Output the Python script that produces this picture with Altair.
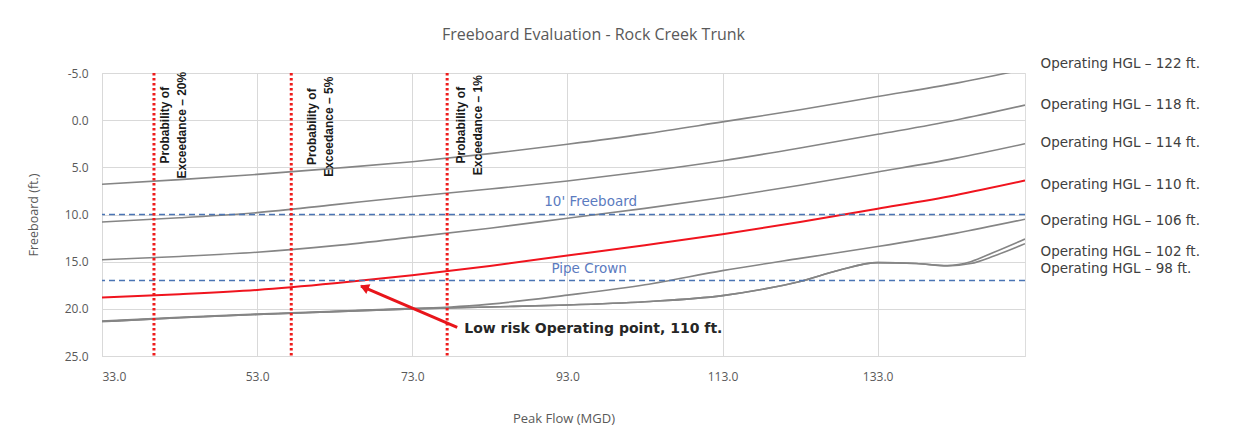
import altair as alt
import pandas as pd

TITLE = "Freeboard Evaluation - Rock Creek Trunk"
X_TICKS = [33, 53, 73, 93, 113, 133]
Y_TICKS = [-5, 0, 5, 10, 15, 20, 25]

X_MAIN = [33, 43, 53, 63, 73, 83, 93, 103, 113, 123, 133, 143, 152]
HGL_122 = [6.8, 6.3, 5.75, 5.1, 4.4, 3.55, 2.55, 1.45, 0.18, -1.1, -2.5, -3.9, -5.4]
HGL_118 = [10.8, 10.35, 9.8, 8.95, 8.1, 7.3, 6.45, 5.45, 4.3, 2.95, 1.5, 0.0, -1.6]
HGL_114 = [14.8, 14.45, 14.0, 13.3, 12.4, 11.45, 10.4, 9.35, 8.2, 6.9, 5.5, 4.05, 2.5]
HGL_110 = [18.8, 18.45, 18.0, 17.3, 16.45, 15.45, 14.35, 13.25, 12.1, 10.8, 9.4, 7.95, 6.4]

X_106 = [33, 43, 53, 63, 73, 78, 83, 93, 103, 113, 123, 133, 143, 152]
HGL_106 = [21.3, 20.9, 20.55, 20.25, 19.95, 19.8, 19.5, 18.55, 17.45, 15.95, 14.65, 13.4, 12.0, 10.5]

X_LOW = [33, 43, 53, 63, 73, 83, 93, 103, 113, 118, 123, 128, 133, 138, 142, 145, 148, 152]
HGL_102 = [21.35, 20.95, 20.6, 20.3, 20.0, 19.8, 19.6, 19.25, 18.6, 17.95, 17.1, 15.9, 15.1, 15.2, 15.4, 15.0, 14.0, 12.6]
HGL_98 = [21.35, 20.95, 20.6, 20.3, 20.0, 19.8, 19.6, 19.25, 18.6, 17.95, 17.1, 15.9, 15.1, 15.2, 15.45, 15.2, 14.4, 13.1]

GRAY_SERIES = [
    ("122", X_MAIN, HGL_122),
    ("118", X_MAIN, HGL_118),
    ("114", X_MAIN, HGL_114),
    ("106", X_106, HGL_106),
    ("102", X_LOW, HGL_102),
    ("98", X_LOW, HGL_98),
]

LABEL_TEXTS = ["Operating HGL \u2013 122 ft.", "Operating HGL \u2013 118 ft.",
               "Operating HGL \u2013 114 ft.", "Operating HGL \u2013 110 ft.",
               "Operating HGL \u2013 106 ft.", "Operating HGL \u2013 102 ft.",
               "Operating HGL \u2013 98 ft."]
LABEL_Y = [-5.93, -1.62, 2.44, 6.85, 10.66, 14.0, 15.78]
LABEL_X = 154.0

PROB_X = [39.7, 57.4, 77.5]
PROB_TEXT_X = [40.5, 59.4, 78.7]
PROB_TEXT_Y = [0.53, 0.69, 0.53]
PROB_TEXTS = ["Probability of\nExceedance \u2013 20%", "Probability of\nExceedance \u2013 5%",
              "Probability of\nExceedance \u2013 1%"]

REF_Y = [10.0, 17.0]
REF_TEXTS = ["10' Freeboard", "Pipe Crown"]
REF_TEXT_X = [96.0, 95.8]
REF_TEXT_Y = [8.65, 15.8]

ARROW_TAIL = (78.8, 21.96)
ARROW_HEAD = (66.4, 17.6)
ARROW_TIP_SYMBOL = (66.8, 17.72)
NOTE_TEXT = "Low risk Operating point, 110 ft."
NOTE_POS = (79.7, 22.1)

# ---- tables ----
gray_rows = []
for name, xs, ys in GRAY_SERIES:
    for i, (x, y) in enumerate(zip(xs, ys)):
        gray_rows.append({"series": name, "flow": x, "freeboard": y, "order": i})
gray_df = pd.DataFrame(gray_rows)
red_df = pd.DataFrame({"flow": X_MAIN, "freeboard": HGL_110, "order": list(range(len(X_MAIN)))})
label_df = pd.DataFrame({"flow": [LABEL_X] * len(LABEL_TEXTS), "freeboard": LABEL_Y, "text": LABEL_TEXTS})
prob_df = pd.DataFrame({"flow": PROB_X})
prob_text_df = pd.DataFrame({"flow": PROB_TEXT_X, "freeboard": PROB_TEXT_Y, "text": PROB_TEXTS})
ref_df = pd.DataFrame({"freeboard": REF_Y})
ref_text_df = pd.DataFrame({"flow": REF_TEXT_X, "freeboard": REF_TEXT_Y, "text": REF_TEXTS})
arrow_df = pd.DataFrame({"flow": [ARROW_TAIL[0]], "freeboard": [ARROW_TAIL[1]],
                         "flow2": [ARROW_HEAD[0]], "freeboard2": [ARROW_HEAD[1]]})
tip_df = pd.DataFrame({"flow": [ARROW_TIP_SYMBOL[0]], "freeboard": [ARROW_TIP_SYMBOL[1]]})
note_df = pd.DataFrame({"flow": [NOTE_POS[0]], "freeboard": [NOTE_POS[1]], "text": [NOTE_TEXT]})

FONT = "Open Sans"
WIDE = "DejaVu Sans"
AX_COLOR = "#595959"

xscale = alt.Scale(domain=[33, 152], nice=False, zero=False)
yscale = alt.Scale(domain=[-5, 25], reverse=True, nice=False, zero=False)

x_axis = alt.Axis(values=X_TICKS, format=".1f", title="Peak Flow (MGD)", grid=True,
                  gridColor="#d9d9d9", domainColor="#d9d9d9", ticks=False,
                  labelColor=AX_COLOR, labelFont=FONT, labelFontSize=12, labelPadding=15,
                  titleFont=FONT, titleFontSize=13, titleFontWeight="normal",
                  titleColor=AX_COLOR, titlePadding=30)
y_axis = alt.Axis(values=Y_TICKS, format=".1f", title="Freeboard (ft.)", grid=True,
                  labelExpr="replace(datum.label, '\u2212', '-')",
                  gridColor="#d9d9d9", domainColor="#d9d9d9", ticks=False,
                  labelColor=AX_COLOR, labelFont=FONT, labelFontSize=12, labelPadding=14,
                  titleFont=FONT, titleFontSize=12.5, titleFontWeight="normal",
                  titleColor=AX_COLOR, titlePadding=24)

X = alt.X("flow:Q", scale=xscale, axis=x_axis)
Y = alt.Y("freeboard:Q", scale=yscale, axis=y_axis)

gray = alt.Chart(gray_df).mark_line(color="#858585", strokeWidth=1.6, clip=True,
                                    interpolate="monotone").encode(
    x=X, y=Y, detail="series:N", order="order:Q")
red = alt.Chart(red_df).mark_line(color="#f0141e", strokeWidth=2, clip=True,
                                  interpolate="monotone").encode(x=X, y=Y, order="order:Q")

refs = alt.Chart(ref_df).mark_rule(color="#4a74b4", strokeWidth=1.5, strokeDash=[6, 4]).encode(y=Y)
ref_text = alt.Chart(ref_text_df).mark_text(font=WIDE, fontSize=13.5, color="#5b7bc0",
                                            align="center", baseline="middle").encode(
    x=X, y=Y, text="text:N")

prob = alt.Chart(prob_df).mark_rule(color="#ee1c1c", strokeWidth=3, strokeDash=[2.5, 2.5]).encode(x=X)
prob_text = alt.Chart(prob_text_df).mark_text(font="Liberation Sans", fontSize=12, fontWeight="bold",
                                              color="#1a1a1a", angle=270, align="center",
                                              baseline="top", lineBreak="\n", lineHeight=17).encode(
    x=X, y=Y, text="text:N")

labels = alt.Chart(label_df).mark_text(font=WIDE, fontSize=13.5, color="#404040", align="left",
                                       baseline="middle").encode(x=X, y=Y, text="text:N")

arrow = alt.Chart(arrow_df).mark_rule(color="#e8151b", strokeWidth=3).encode(
    x=X, y=Y, x2="flow2:Q", y2="freeboard2:Q")
tip = alt.Chart(tip_df).mark_point(shape="triangle-up", filled=True, size=110, angle=293,
                                   color="#e8151b", opacity=1).encode(x=X, y=Y)
note = alt.Chart(note_df).mark_text(font=WIDE, fontSize=14, fontWeight="bold", color="#262626",
                                    align="left", baseline="middle").encode(x=X, y=Y, text="text:N")

chart = alt.layer(gray, red, refs, ref_text, prob, prob_text, labels, arrow, tip, note).properties(
    width=923, height=283,
    title=alt.Title(TITLE, font=FONT, fontSize=16, fontWeight="normal", color=AX_COLOR,
                    anchor="middle", frame="group", dx=30, offset=14),
    autosize=alt.AutoSizeParams(type="none"),
    padding={"left": 94, "top": 65, "right": 195, "bottom": 78},
).configure_view(stroke=None).configure(background="white")

chart.save("out.html", embed_options={"renderer": "svg", "actions": False})
